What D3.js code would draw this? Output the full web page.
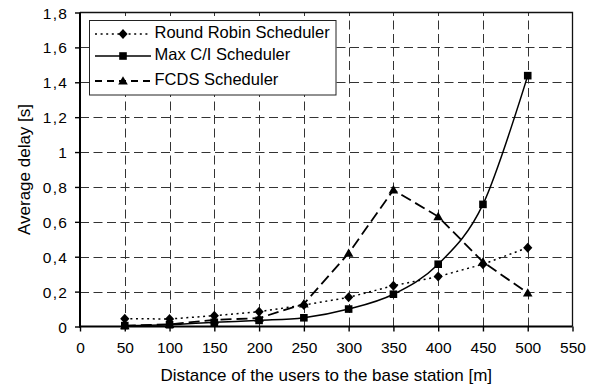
<!DOCTYPE html>
<html>
<head>
<meta charset="utf-8">
<script src="https://cdn.jsdelivr.net/npm/d3@7"></script>
<style>
  html, body { margin: 0; padding: 0; background: #fff; }
  svg { display: block; font-family: "Liberation Sans", Arial, sans-serif; }
</style>
</head>
<body>
<svg id="chart" width="598" height="388"></svg>
<script>
// Distances of the users to the base station [m]
const distances = [50, 100, 150, 200, 250, 300, 350, 400, 450, 500];

// Average delay [s] per scheduler
const roundRobin = [0.045, 0.043, 0.062, 0.085, 0.123, 0.167, 0.234, 0.286, 0.357, 0.452];
const maxCI      = [0.005, 0.010, 0.024, 0.035, 0.050, 0.100, 0.185, 0.357, 0.700, 1.438];
const fcds       = [0.005, 0.012, 0.038, 0.048, 0.130, 0.420, 0.783, 0.630, 0.370, 0.192];

const seriesNames = ["Round Robin Scheduler", "Max C/I Scheduler", "FCDS Scheduler"];

// Axis ticks and their labels (decimal comma)
const xTickValues = [0, 50, 100, 150, 200, 250, 300, 350, 400, 450, 500, 550];
const yTickValues = [0, 0.2, 0.4, 0.6, 0.8, 1.0, 1.2, 1.4, 1.6, 1.8];
const yTickLabels = ["0", "0,2", "0,4", "0,6", "0,8", "1", "1,2", "1,4", "1,6", "1,8"];

const xTitle = "Distance of the users to the base station [m]";
const yTitle = "Average delay [s]";

const svg = d3.select("#chart");
const plotLeft = 80, plotRight = 572.5, plotTop = 12.5, plotBottom = 326.5;

const x = d3.scaleLinear().domain([0, 550]).range([plotLeft, plotRight]);
const y = d3.scaleLinear().domain([0, 1.8]).range([plotBottom, plotTop]);

// Dashed grid
const grid = svg.append("g")
  .attr("stroke", "#333").attr("stroke-width", 1).attr("stroke-dasharray", "9,4.5").attr("fill", "none");
grid.selectAll("line.h").data(yTickValues.slice(1, -1)).join("line")
  .attr("x1", plotLeft).attr("x2", plotRight)
  .attr("y1", d => Math.round(y(d)) + 0.5).attr("y2", d => Math.round(y(d)) + 0.5);
grid.selectAll("line.v").data(xTickValues.slice(1, -1)).join("line")
  .attr("y1", plotBottom).attr("y2", plotTop)
  .attr("x1", d => Math.round(x(d)) + 0.5).attr("x2", d => Math.round(x(d)) + 0.5);

// Plot frame: thin top and right edges
svg.append("path")
  .attr("d", `M${plotLeft},${plotTop}H${plotRight}V${plotBottom}`)
  .attr("fill", "none").attr("stroke", "#111").attr("stroke-width", 1.3);

// Axes
const xAxis = d3.axisBottom(x).tickValues(xTickValues).tickSize(5).tickPadding(8).tickFormat(d3.format("d"));
const yAxis = d3.axisLeft(y).tickValues(yTickValues).tickSize(5).tickPadding(7)
  .tickFormat((d, i) => yTickLabels[i]);

const gx = svg.append("g").attr("transform", `translate(0,${plotBottom})`).call(xAxis);
const gy = svg.append("g").attr("transform", `translate(${plotLeft},0)`).call(yAxis);

[gx, gy].forEach(g => {
  g.select(".domain").attr("stroke", "#000").attr("stroke-width", 2);
  g.selectAll(".tick line").attr("stroke", "#000").attr("stroke-width", 1.4);
  g.selectAll(".tick text").attr("fill", "#000").style("font-size", "15.5px")
    .style("font-family", "'Liberation Sans', Arial, sans-serif");
});
gy.select(".domain").attr("d", `M0,${plotBottom + 1}V${plotTop}`);
gx.select(".domain").attr("d", `M${plotLeft - 1},0H${plotRight}`);
gy.selectAll(".tick text").attr("dy", "0.36em").style("letter-spacing", "1.2px");
gx.selectAll(".tick text").attr("dy", "0.9em");

// Axis titles
svg.append("text")
  .attr("x", (plotLeft + plotRight) / 2).attr("y", 381)
  .attr("text-anchor", "middle").style("font-size", "17px").attr("fill", "#000")
  .text(xTitle);
svg.append("text")
  .attr("transform", `translate(30,${(plotTop + plotBottom) / 2}) rotate(-90)`)
  .attr("text-anchor", "middle").style("font-size", "17px").attr("fill", "#000")
  .text(yTitle);

// Marker shapes
const markerPath = {
  diamond: "M0,-5L4.6,0L0,5L-4.6,0Z",
  square: "M-3.8,-3.8H3.8V3.8H-3.8Z",
  triangle: "M0,-4.8L4.8,3.6H-4.8Z"
};

// Max C/I is drawn as a smoothed line, the other two as straight segments
const series = [
  { name: seriesNames[0], values: roundRobin, dash: "2,3.6", width: 1.5, marker: "diamond", curve: d3.curveLinear },
  { name: seriesNames[1], values: maxCI, dash: null, width: 1.5, marker: "square", curve: d3.curveCardinal.tension(0) },
  { name: seriesNames[2], values: fcds, dash: "11,5", width: 1.8, marker: "triangle", curve: d3.curveLinear }
];

const plot = svg.append("g");
series.forEach(s => {
  const line = d3.line()
    .x((d, i) => x(distances[i]))
    .y(d => y(d))
    .curve(s.curve);
  plot.append("path")
    .datum(s.values)
    .attr("d", line)
    .attr("fill", "none").attr("stroke", "#000")
    .attr("stroke-width", s.width)
    .attr("stroke-dasharray", s.dash);
});
series.forEach(s => {
  plot.selectAll(null).data(s.values).join("path")
    .attr("d", markerPath[s.marker])
    .attr("transform", (d, i) => `translate(${x(distances[i])},${y(d)})`)
    .attr("fill", "#000");
});

// Legend
const legend = svg.append("g");
legend.append("rect")
  .attr("x", 89.5).attr("y", 20.5).attr("width", 246.5).attr("height", 74.5)
  .attr("fill", "#fff").attr("stroke", "#222").attr("stroke-width", 1);
const rowMarkY = [34, 56, 81];
const rowTextY = [37.5, 60, 85];
series.forEach((s, i) => {
  legend.append("line")
    .attr("x1", 95).attr("x2", 151).attr("y1", rowMarkY[i]).attr("y2", rowMarkY[i])
    .attr("stroke", "#000").attr("stroke-width", s.width)
    .attr("stroke-dasharray", s.dash === "11,5" ? "7,5" : s.dash);
  legend.append("path")
    .attr("d", markerPath[s.marker])
    .attr("transform", `translate(123,${rowMarkY[i]})`)
    .attr("fill", "#000");
  legend.append("text")
    .attr("x", 154.5).attr("y", rowTextY[i])
    .style("font-size", "16.5px").attr("fill", "#000")
    .text(s.name);
});
</script>
</body>
</html>
